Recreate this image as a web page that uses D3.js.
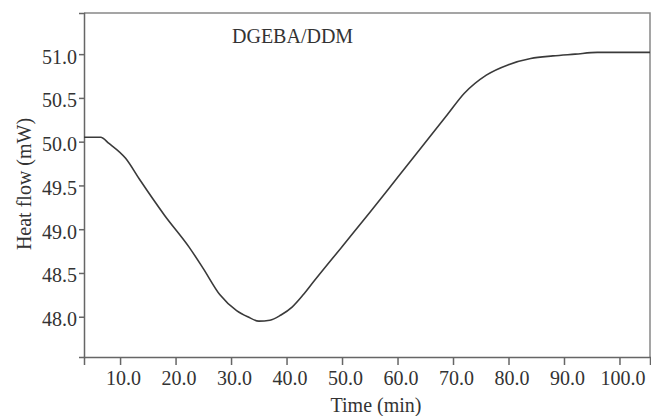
<!DOCTYPE html>
<html>
<head>
<meta charset="utf-8">
<script src="https://cdn.jsdelivr.net/npm/d3@7"></script>
<style>
  html, body { margin: 0; padding: 0; background: #fff; }
  svg { display: block; }
  text { font-family: "Liberation Serif", "Times New Roman", serif; fill: #333; }
</style>
</head>
<body>
<svg id="chart" width="651" height="416"></svg>
<script>
// DSC scan of DGEBA/DDM: time (min) vs heat flow (mW)
const timeMin = [3.5, 6.5, 8.0, 11.0, 13.5, 18, 22.5, 25, 28, 31, 33, 35, 37, 39, 41, 43, 45, 50, 55, 60, 66, 69, 72, 76, 80, 84, 88, 92, 96, 100, 105.5];
const heatFlow = [50.05, 50.05, 49.98, 49.81, 49.57, 49.16, 48.79, 48.55, 48.25, 48.07, 48.00, 47.95, 47.96, 48.02, 48.11, 48.25, 48.41, 48.80, 49.19, 49.59, 50.07, 50.31, 50.55, 50.76, 50.88, 50.95, 50.98, 51.00, 51.02, 51.02, 51.02];

const xTicks = [10, 20, 30, 40, 50, 60, 70, 80, 90, 100];
const yTicks = [48.0, 48.5, 49.0, 49.5, 50.0, 50.5, 51.0];
const title = "DGEBA/DDM";
const xTitle = "Time (min)";
const yTitle = "Heat flow (mW)";

const svg = d3.select("#chart");
const plot = { left: 84, right: 650, top: 13, bottom: 357 };

const x = d3.scaleLinear().domain([3.5, 105.5]).range([plot.left, plot.right]);
const y = d3.scaleLinear().domain([47.54, 51.47]).range([plot.bottom, plot.top]);

// frame: top and right edges
svg.append("path")
  .attr("d", `M${plot.left},${plot.top}H${plot.right}V${plot.bottom}`)
  .attr("fill", "none").attr("stroke", "#888").attr("stroke-width", 1.5);

// bottom axis
const gx = svg.append("g").attr("transform", `translate(0,${plot.bottom})`)
  .call(d3.axisBottom(x).tickValues(xTicks).tickFormat(d3.format(".1f")).tickSizeOuter(0).tickSize(8).tickPadding(6));
// left axis
const gy = svg.append("g").attr("transform", `translate(${plot.left},0)`)
  .call(d3.axisLeft(y).tickValues(yTicks).tickFormat(d3.format(".1f")).tickSizeOuter(0).tickSize(5).tickPadding(2));

[gx, gy].forEach(g => {
  g.select(".domain").attr("stroke", "#666").attr("stroke-width", 1.5);
  g.selectAll(".tick line").attr("stroke", "#666").attr("stroke-width", 1.5);
  g.selectAll(".tick text")
    .attr("font-family", "Liberation Serif, serif")
    .attr("font-size", 20).attr("fill", "#333");
});
gx.selectAll(".tick text").attr("dx", 3);
gy.selectAll(".tick text").attr("dy", "0.45em");

// heat flow curve
const line = d3.line()
  .x((d, i) => x(timeMin[i]))
  .y(d => y(d))
  .curve(d3.curveMonotoneX);

svg.append("path")
  .datum(heatFlow)
  .attr("d", line)
  .attr("fill", "none")
  .attr("stroke", "#3a3a3a")
  .attr("stroke-width", 1.6);

// labels
svg.append("text").attr("x", 232).attr("y", 43)
  .attr("font-size", 20).text(title);

svg.append("text").attr("x", 376).attr("y", 412)
  .attr("text-anchor", "middle").attr("font-size", 20).text(xTitle);

svg.append("text")
  .attr("transform", `translate(31,184) rotate(-90)`)
  .attr("text-anchor", "middle").attr("font-size", 20).text(yTitle);
</script>
</body>
</html>
